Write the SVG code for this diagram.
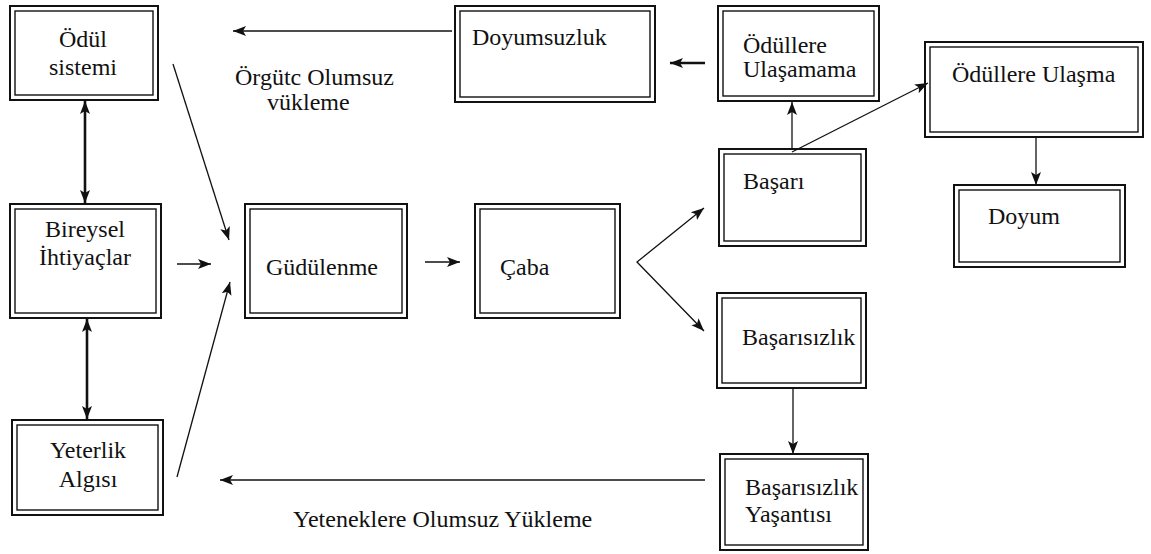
<svg xmlns="http://www.w3.org/2000/svg" width="1151" height="554" viewBox="0 0 1151 554" font-family="'Liberation Serif', 'DejaVu Serif', serif">
<style>
.o{fill:#fff;stroke:#111;stroke-width:2}
.i{fill:none;stroke:#111;stroke-width:1.4}
text{font-family:'Liberation Serif','DejaVu Serif',serif;font-size:24px;fill:#111}
.c{text-anchor:middle}
.l{fill:none;stroke:#111;stroke-width:1.3}
.t{fill:none;stroke:#111;stroke-width:2.6}
</style>
<defs>
<marker id="a" markerUnits="userSpaceOnUse" markerWidth="16" markerHeight="12" refX="13" refY="6" orient="auto">
<path d="M0,1 L13,6 L0,11 L3,6 z" fill="#111"/>
</marker>
<marker id="as" markerUnits="userSpaceOnUse" markerWidth="16" markerHeight="12" refX="13" refY="6" orient="auto-start-reverse">
<path d="M0,1 L13,6 L0,11 L3,6 z" fill="#111"/>
</marker>
</defs>
<rect width="1151" height="554" fill="#fff"/>

<g id="odul-sistemi">
<rect class="o" x="10" y="6" width="148" height="94"/><rect class="i" x="15" y="11" width="138" height="84"/>
<text class="c" x="83" y="47">Ödül</text><text class="c" x="83" y="75">sistemi</text>
</g>
<g id="bireysel-ihtiyaclar">
<rect class="o" x="10" y="204" width="151" height="114"/><rect class="i" x="15" y="209" width="141" height="104"/>
<text class="c" x="85" y="237">Bireysel</text><text class="c" x="85" y="265">İhtiyaçlar</text>
</g>
<g id="yeterlik-algisi">
<rect class="o" x="12" y="420" width="151" height="95"/><rect class="i" x="17" y="425" width="141" height="85"/>
<text class="c" x="88" y="458">Yeterlik</text><text class="c" x="88" y="487">Algısı</text>
</g>
<g id="gudulenme">
<rect class="o" x="245" y="204" width="162" height="114"/><rect class="i" x="250" y="209" width="152" height="104"/>
<text x="266" y="275">Güdülenme</text>
</g>
<g id="caba">
<rect class="o" x="475" y="204" width="145" height="114"/><rect class="i" x="480" y="209" width="135" height="104"/>
<text x="500" y="275">Çaba</text>
</g>
<g id="doyumsuzluk">
<rect class="o" x="455" y="6" width="200" height="96"/><rect class="i" x="460" y="11" width="190" height="86"/>
<text x="472" y="45">Doyumsuzluk</text>
</g>
<g id="odullere-ulasamama">
<rect class="o" x="718" y="6" width="161" height="95"/><rect class="i" x="723" y="11" width="151" height="85"/>
<text x="743" y="53">Ödüllere</text><text x="743" y="77">Ulaşamama</text>
</g>
<g id="basari">
<rect class="o" x="719" y="149" width="147" height="97"/><rect class="i" x="724" y="154" width="137" height="87"/>
<text x="743" y="189">Başarı</text>
</g>
<g id="odullere-ulasma">
<rect class="o" x="925" y="42" width="218" height="95"/><rect class="i" x="930" y="47" width="208" height="85"/>
<text x="952" y="82">Ödüllere Ulaşma</text>
</g>
<g id="doyum">
<rect class="o" x="954" y="185" width="171" height="82"/><rect class="i" x="959" y="190" width="161" height="72"/>
<text x="988" y="224">Doyum</text>
</g>
<g id="basarisizlik">
<rect class="o" x="717" y="293" width="149" height="95"/><rect class="i" x="722" y="298" width="139" height="85"/>
<text x="742" y="345">Başarısızlık</text>
</g>
<g id="basarisizlik-yasantisi">
<rect class="o" x="720" y="454" width="148" height="96"/><rect class="i" x="725" y="459" width="138" height="86"/>
<text x="745" y="495">Başarısızlık</text><text x="745" y="522">Yaşantısı</text>
</g>

<g id="connectors">
<line class="l" x1="452" y1="31" x2="233" y2="31" marker-end="url(#a)"/>
<line class="t" x1="705" y1="63" x2="670" y2="63" marker-end="url(#a)"/>
<line class="t" x1="85" y1="101" x2="85" y2="203" marker-start="url(#as)" marker-end="url(#a)"/>
<line class="t" x1="87" y1="319" x2="87" y2="419" marker-start="url(#as)" marker-end="url(#a)"/>
<line class="l" x1="173" y1="64" x2="229" y2="240" marker-end="url(#a)"/>
<line class="l" x1="177" y1="264" x2="211" y2="264" marker-end="url(#a)"/>
<line class="l" x1="177" y1="477" x2="230" y2="282" marker-end="url(#a)"/>
<line class="l" x1="425" y1="262" x2="460" y2="262" marker-end="url(#a)"/>
<polyline class="l" points="704,208 637,262 704,331" marker-start="url(#as)" marker-end="url(#a)"/>
<line class="l" x1="792" y1="150" x2="792" y2="102" marker-end="url(#a)"/>
<line class="l" x1="792" y1="152" x2="928" y2="83" marker-end="url(#a)"/>
<line class="l" x1="1036" y1="138" x2="1036" y2="185" marker-end="url(#a)"/>
<line class="l" x1="793" y1="389" x2="793" y2="454" marker-end="url(#a)"/>
<line class="l" x1="705" y1="480" x2="220" y2="480" marker-end="url(#a)"/>
</g>

<text x="235" y="85">Örgütc Olumsuz</text>
<text x="267" y="110">vükleme</text>
<text x="293" y="527">Yeteneklere Olumsuz Yükleme</text>
</svg>
